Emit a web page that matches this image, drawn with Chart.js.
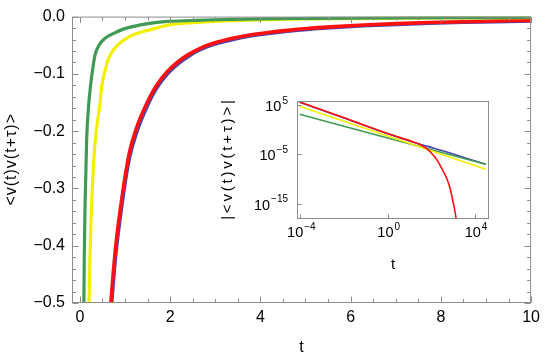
<!DOCTYPE html>
<html>
<head>
<meta charset="utf-8">
<script src="https://cdn.jsdelivr.net/npm/chart.js@4.4.1/dist/chart.umd.min.js"></script>
<style>
  html, body { margin: 0; padding: 0; background: #fff; }
  #wrap { position: relative; width: 545px; height: 358px; }
  #main { position: absolute; left: 0; top: 0; }
  #inset { position: absolute; left: 200px; top: 80px; }
</style>
</head>
<body>
<div id="wrap">
  <canvas id="main" width="545" height="358"></canvas>
  <canvas id="inset" width="300" height="215"></canvas>
</div>
<script>
// main panel
const tGreen = [0.086, 0.088, 0.100, 0.116, 0.150, 0.197, 0.240, 0.278, 0.336, 0.423, 0.555, 0.739, 0.993, 1.29, 1.58, 1.94, 2.5, 3, 4, 5, 6, 7, 8, 9, 10];
const vGreen = [-0.55, -0.50, -0.40, -0.324, -0.215, -0.152, -0.118, -0.095, -0.067, -0.050, -0.038, -0.0296, -0.021, -0.0154, -0.0115, -0.0085, -0.0068, -0.0055, -0.0040, -0.0032, -0.0026, -0.0022, -0.0019, -0.0017, -0.0016];

const tYellow = [0.198, 0.204, 0.230, 0.263, 0.330, 0.445, 0.482, 0.555, 0.643, 0.774, 0.921, 1.10, 1.36, 1.65, 1.98, 2.5, 3, 4, 5, 6, 7, 8, 9, 10];
const vYellow = [-0.55, -0.498, -0.40, -0.324, -0.225, -0.152, -0.123, -0.095, -0.072, -0.055, -0.044, -0.035, -0.027, -0.021, -0.0145, -0.0105, -0.0082, -0.0056, -0.0042, -0.0034, -0.0028, -0.0024, -0.0021, -0.0019];

const tRed = [0.66, 0.686, 0.789, 0.943, 1.096, 1.27, 1.51, 1.69, 1.95, 2.19, 2.41, 2.70, 3.07, 3.44, 3.80, 4.17, 4.60, 5.04, 5.55, 6.29, 7.02, 7.74, 8.49, 9.21, 10];
const vRed = [-0.53, -0.50, -0.405, -0.31, -0.238, -0.191, -0.147, -0.121, -0.095, -0.078, -0.066, -0.054, -0.0440, -0.0370, -0.0318, -0.0278, -0.0240, -0.0208, -0.0180, -0.0148, -0.0123, -0.0104, -0.0089, -0.0077, -0.0066];
const vBlue = [-0.55, -0.52, -0.42, -0.322, -0.247, -0.199, -0.153, -0.126, -0.099, -0.0815, -0.069, -0.0565, -0.0462, -0.0390, -0.0336, -0.0295, -0.0256, -0.0223, -0.0194, -0.0161, -0.0135, -0.0115, -0.0099, -0.0087, -0.0076];

const xMajorTicks = [0, 2, 4, 6, 8, 10];
const xMinorTicks = [0.5, 1, 1.5, 2.5, 3, 3.5, 4.5, 5, 5.5, 6.5, 7, 7.5, 8.5, 9, 9.5];
const xTickLabels = ["0", "2", "4", "6", "8", "10"];
const yMajorTicks = [0, -0.1, -0.2, -0.3, -0.4, -0.5];
const yMinorTicks = [-0.02, -0.04, -0.06, -0.08, -0.12, -0.14, -0.16, -0.18, -0.22, -0.24, -0.26, -0.28,
                     -0.32, -0.34, -0.36, -0.38, -0.42, -0.44, -0.46, -0.48];
const yTickLabels = ["0.0", "\u22120.1", "\u22120.2", "\u22120.3", "\u22120.4", "\u22120.5"];

// inset (log-log)
const tInRed = [9.3e-5, 0.01, 1, 15.1, 31.6, 61.7, 123, 178, 251, 355, 513, 676, 851, 1072, 1349, 1479];
const vInRed = [4.07e5, 251, 0.158, 3.16e-3, 8.9e-4, 1.38e-4, 6.3e-6, 7.9e-7, 5.9e-8, 3.2e-9, 1.12e-10, 3.2e-12, 5e-14, 4e-16, 1.26e-18, 5e-20];
const tInBlue = [9.3e-5, 0.01, 1, 15.1, 61.7, 513, 3981, 30900];
const vInBlue = [3.55e5, 224, 0.141, 2.8e-3, 4.5e-4, 2.95e-5, 1.6e-6, 9.3e-8];
const tInYellow = [9.3e-5, 1, 30900];
const vInYellow = [5.5e4, 0.049, 9.1e-9];
const tInGreen = [9.3e-5, 1, 30900];
const vInGreen = [1.29e3, 0.021, 9.3e-8];

const insetXTicks = [1e-4, 1, 1e4];
const insetXExp = ["\u22124", "0", "4"];
const insetYTicks = [1e5, 1e-5, 1e-15];
const insetYExp = ["5", "\u22125", "\u221215"];

const mainYTitle = "<v(t)v(t+\u03c4)>";
const insetYTitle = "|<v(t)v(t+\u03c4)>|";

const GREEN = "#3f9a55";
const YELLOW = "#f2f000";
const RED = "#ff1010";
const BLUE = "#4545ad";
const FRAME = "#8c8c8c";
const FONT = "'Liberation Sans', Arial, sans-serif";

const pts = (ts, vs) => ts.map((t, i) => ({ x: t, y: vs[i] }));

function line(label, data, color, width) {
  return {
    label, data,
    showLine: true,
    borderColor: color,
    backgroundColor: color,
    borderWidth: width,
    pointRadius: 0,
    cubicInterpolationMode: "monotone",
    clip: 0
  };
}

// rotated axis title with a little extra letter spacing
function drawVTitle(ctx, text, cx, cy, size, spacing) {
  ctx.save();
  ctx.font = size + "px " + FONT;
  ctx.letterSpacing = spacing + "px";
  const w = ctx.measureText(text).width - spacing;
  ctx.translate(cx, cy);
  ctx.rotate(-Math.PI / 2);
  ctx.fillStyle = "#000";
  ctx.textAlign = "left";
  ctx.textBaseline = "middle";
  ctx.fillText(text, -w / 2, 0);
  ctx.restore();
}

const mainFrame = {
  id: "mainFrame",
  afterDatasetsDraw(c) {
    const { ctx, chartArea: a, scales: { x, y } } = c;
    const L = a.left + 0.5, R = a.right - 0.5, T = a.top + 0.5, B = a.bottom - 0.5;
    ctx.save();
    ctx.strokeStyle = FRAME;
    ctx.lineWidth = 1;
    ctx.strokeRect(L, T, R - L, B - T);
    ctx.beginPath();
    const xt = (v, len) => {
      const px = Math.round(x.getPixelForValue(v)) + 0.5;
      ctx.moveTo(px, B); ctx.lineTo(px, B - len);
      ctx.moveTo(px, T); ctx.lineTo(px, T + len);
    };
    const yt = (v, len) => {
      const py = Math.round(y.getPixelForValue(v)) + 0.5;
      ctx.moveTo(L, py); ctx.lineTo(L + len, py);
      ctx.moveTo(R, py); ctx.lineTo(R - len, py);
    };
    xMajorTicks.forEach(v => xt(v, 6));
    xMinorTicks.forEach(v => xt(v, 3.5));
    yMajorTicks.forEach(v => yt(v, 6));
    yMinorTicks.forEach(v => yt(v, 3.5));
    ctx.stroke();
    ctx.restore();
    drawVTitle(ctx, mainYTitle, 12, (a.top + a.bottom) / 2, 16, 1);
  }
};

function drawPow(ctx, exp, x, y, align) {
  ctx.font = "14.5px " + FONT;
  const wb = ctx.measureText("10").width;
  ctx.font = "10px " + FONT;
  const we = ctx.measureText(exp).width + 1;
  const start = align === "center" ? x - (wb + we) / 2 : x - (wb + we);
  ctx.textBaseline = "middle";
  ctx.textAlign = "left";
  ctx.fillStyle = "#000";
  ctx.font = "14.5px " + FONT;
  ctx.fillText("10", start, y);
  ctx.font = "10px " + FONT;
  ctx.fillText(exp, start + wb + 1, y - 6);
}

const insetFrame = {
  id: "insetFrame",
  afterDatasetsDraw(c) {
    const { ctx, chartArea: a, scales: { x, y } } = c;
    const L = a.left + 0.5, R = a.right - 0.5, T = a.top + 0.5, B = a.bottom - 0.5;
    ctx.save();
    ctx.strokeStyle = FRAME;
    ctx.lineWidth = 1;
    ctx.strokeRect(L, T, R - L, B - T);
    ctx.beginPath();
    insetXTicks.forEach(v => {
      const px = Math.round(x.getPixelForValue(v)) + 0.5;
      ctx.moveTo(px, B); ctx.lineTo(px, B - 4);
    });
    insetYTicks.forEach(v => {
      const py = Math.round(y.getPixelForValue(v)) + 0.5;
      ctx.moveTo(L, py); ctx.lineTo(L + 4, py);
    });
    ctx.stroke();
    insetXTicks.forEach((v, i) => drawPow(ctx, insetXExp[i], x.getPixelForValue(v) + 1, a.bottom + 14, "center"));
    insetYTicks.forEach((v, i) => drawPow(ctx, insetYExp[i], a.left - 9, y.getPixelForValue(v) + 2, "right"));
    ctx.restore();
    drawVTitle(ctx, insetYTitle, 28, (a.top + a.bottom) / 2, 15, 2.8);
  }
};

new Chart(document.getElementById("main"), {
  type: "scatter",
  data: {
    datasets: [
      line("green", pts(tGreen, vGreen), GREEN, 3.2),
      line("yellow", pts(tYellow, vYellow), YELLOW, 3.2),
      line("red", pts(tRed, vRed), RED, 3.6),
      line("blue", pts(tRed, vBlue), BLUE, 3.6)
    ]
  },
  options: {
    responsive: false,
    devicePixelRatio: 1,
    animation: false,
    layout: { padding: { top: 11, right: 9, left: 0, bottom: 0 } },
    plugins: { legend: { display: false }, tooltip: { enabled: false } },
    scales: {
      x: {
        type: "linear",
        min: -0.175,
        max: 10,
        afterFit(s) { s.height = 55; },
        afterBuildTicks(s) { s.ticks = xMajorTicks.map(v => ({ value: v })); },
        grid: { display: false, drawTicks: false },
        border: { display: false },
        ticks: {
          padding: 5,
          color: "#000",
          font: { family: FONT, size: 16 },
          callback: (v, i) => xTickLabels[i]
        },
        title: {
          display: true, text: "t", color: "#000",
          font: { family: FONT, size: 16, lineHeight: 1.2 },
          padding: { top: 0, bottom: 1 }
        }
      },
      y: {
        type: "linear",
        min: -0.5,
        max: 0,
        afterFit(s) { s.width = 72; },
        afterBuildTicks(s) { s.ticks = yMajorTicks.slice().reverse().map(v => ({ value: v })); },
        grid: { display: false, drawTicks: false },
        border: { display: false },
        ticks: {
          padding: 7,
          color: "#000",
          font: { family: FONT, size: 16 },
          callback: (v) => yTickLabels[yMajorTicks.findIndex(m => Math.abs(m - v) < 1e-9)]
        },
        title: { display: false }
      }
    }
  },
  plugins: [mainFrame]
});

new Chart(document.getElementById("inset"), {
  type: "scatter",
  data: {
    datasets: [
      line("red", pts(tInRed, vInRed), RED, 1.6),
      line("yellow", pts(tInYellow, vInYellow), YELLOW, 1.6),
      line("green", pts(tInGreen, vInGreen), GREEN, 1.6),
      line("blue", pts(tInBlue, vInBlue), BLUE, 1.6)
    ]
  },
  options: {
    responsive: false,
    devicePixelRatio: 1,
    animation: false,
    layout: { padding: { top: 21, right: 11, left: 0, bottom: 0 } },
    plugins: { legend: { display: false }, tooltip: { enabled: false } },
    scales: {
      x: {
        type: "logarithmic",
        min: Math.pow(10, -4.137),
        max: Math.pow(10, 4.64),
        afterFit(s) { s.height = 76; },
        grid: { display: false, drawTicks: false },
        border: { display: false },
        ticks: { display: false },
        title: {
          display: true, text: "t", color: "#000",
          font: { family: FONT, size: 15, lineHeight: 1.2 },
          padding: { top: 0, bottom: 21 }
        }
      },
      y: {
        type: "logarithmic",
        min: Math.pow(10, -18.13),
        max: Math.pow(10, 5.81),
        afterFit(s) { s.width = 97; },
        grid: { display: false, drawTicks: false },
        border: { display: false },
        ticks: { display: false },
        title: { display: false }
      }
    }
  },
  plugins: [insetFrame]
});
</script>
</body>
</html>
